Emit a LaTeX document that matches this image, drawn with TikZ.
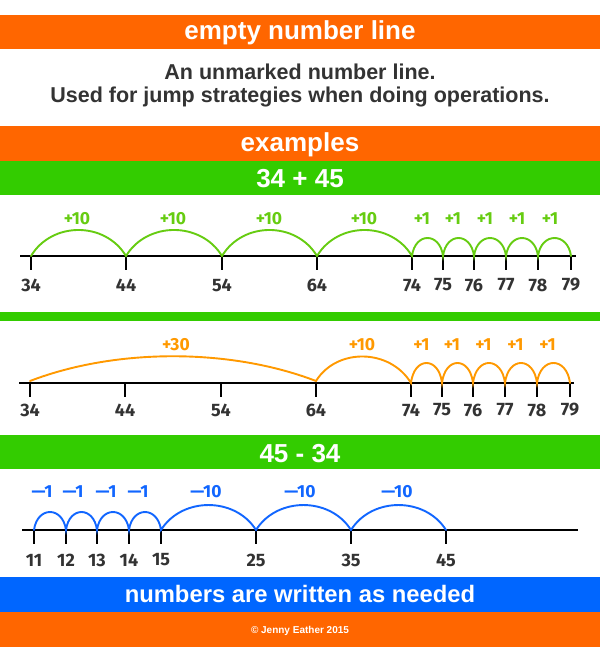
\documentclass[tikz,border=0pt]{standalone}
\usepackage{fontspec}
\setmainfont{Liberation Sans}
\newfontfamily\hand{Fira Sans}
\usetikzlibrary{calc}
\definecolor{bandorange}{HTML}{FF6600}
\definecolor{bandgreen}{HTML}{33CC00}
\definecolor{bandblue}{HTML}{0066FF}
\definecolor{arcgreen}{HTML}{66CC11}
\definecolor{arcorange}{HTML}{FF9900}
\definecolor{arcblue}{HTML}{1166FF}
\definecolor{txtgray}{HTML}{333333}
\begin{document}
\begin{tikzpicture}[x=1pt,y=-1pt,
  headtxt/.style={anchor=base,text=white,font=\bfseries\fontsize{26}{30}\selectfont,inner sep=0pt},
  desc/.style={anchor=base,text=txtgray,font=\bfseries\fontsize{21.5}{24}\selectfont,inner sep=0pt},
  axis/.style={line width=1.3pt,black},
  tickmark/.style={line width=1.3pt,black},
  num/.style={text=txtgray,font=\hand\bfseries\fontsize{18}{18}\selectfont,inner sep=0pt},
  jl/.style={font=\hand\bfseries\fontsize{17.5}{17.5}\selectfont,inner sep=0pt},
  jump/.style={line width=1.9pt,line cap=round},
  bighop/.style={to path={.. controls ($(\tikztostart)!0.22!(\tikztotarget)+(0,-#1)$) and ($(\tikztotarget)!0.22!(\tikztostart)+(0,-#1)$) .. (\tikztotarget)}},
  widehop/.style={to path={.. controls ($(\tikztostart)!0.3!(\tikztotarget)+(0,-#1)$) and ($(\tikztotarget)!0.3!(\tikztostart)+(0,-#1)$) .. (\tikztotarget)}},
  smallhop/.style={to path={.. controls ($(\tikztostart)!0.1!(\tikztotarget)+(0,-#1)$) and ($(\tikztotarget)!0.1!(\tikztostart)+(0,-#1)$) .. (\tikztotarget)}}
]
\useasboundingbox (0,0) rectangle (600,647);
\fill[white] (0,0) rectangle (600,647);
% header bands
\fill[bandorange] (0,15) rectangle (600,49);
\node[headtxt] (t1) at (300,40) {empty number line};
\node[desc] (d1) at (300,80) {An unmarked number line.};
\node[desc] (d2) at (300,102.5) {Used for jump strategies when doing operations.};
\fill[bandorange] (0,126) rectangle (600,161);
\node[headtxt] (t2) at (300,152) {examples};
\fill[bandgreen] (0,161) rectangle (600,194.5);
\node[headtxt] (t3) at (300,187) {34 + 45};
% ---- number line 1
\coordinate (La) at (20,256); \coordinate (Lb) at (576,256);
\draw[axis] (La) -- (Lb);
\foreach \v/\x in {34/31,44/126,54/222,64/317,74/412,75/443,76/474,77/506,78/538,79/571}{
  \coordinate (a\v) at (\x,256);
  \draw[tickmark] (a\v) -- ++(0,14);
  \node[num] (na\v) at (\x,285) {\v};
}
\draw[jump,arcgreen] (a34) to[bighop=34.7] (a44) to[bighop=34.7] (a54) to[bighop=34.7] (a64) to[bighop=34.7] (a74)
  to[smallhop=24] (a75) to[smallhop=24] (a76) to[smallhop=24] (a77) to[smallhop=24] (a78) to[smallhop=24] (a79);
\foreach \x [count=\i] in {77,173,269,364}{\node[jl,text=arcgreen] (ja\i) at (\x,219) {+10};}
\foreach \x [count=\i] in {422,453,485,517,550}{\node[jl,text=arcgreen] (jb\i) at (\x,219) {+1};}
% separator
\fill[bandgreen] (0,312) rectangle (600,321);
% ---- number line 2
\coordinate (Ma) at (19,383); \coordinate (Mb) at (574,383);
\draw[axis] (Ma) -- (Mb);
\foreach \v/\x in {34/30,44/125,54/221,64/316,74/411,75/442,76/473,77/505,78/537,79/570}{
  \coordinate (b\v) at (\x,383);
  \draw[tickmark] (b\v) -- ++(0,14);
  \node[num] (nb\v) at (\x,410) {\v};
}
\draw[jump,arcorange] ($(b34)+(0,-2)$) coordinate (b34u) to[widehop=33] ($(b64)+(0,-2)$) coordinate (b64u) to[bighop=34] (b74)
  to[smallhop=26.7] (b75) to[smallhop=26.7] (b76) to[smallhop=26.7] (b77) to[smallhop=26.7] (b78) to[smallhop=26.7] (b79);
\node[jl,text=arcorange] (jc1) at (176,345) {+30};
\node[jl,text=arcorange] (jc2) at (362,345) {+10};
\foreach \x [count=\i] in {421.5,452,483.5,515.5,547.5}{\node[jl,text=arcorange] (jd\i) at (\x,345) {+1};}
% ---- subtraction header
\fill[bandgreen] (0,435) rectangle (600,469);
\node[headtxt] (t4) at (300,462) {45 - 34};
% ---- number line 3
\coordinate (Na) at (22,530); \coordinate (Nb) at (578,530);
\draw[axis] (Na) -- (Nb);
\foreach \v/\x in {11/34,12/66,13/97,14/129,15/161,25/256,35/351,45/446}{
  \coordinate (c\v) at (\x,530);
  \draw[tickmark] (c\v) -- ++(0,14);
  \node[num] (nc\v) at (\x,560) {\v};
}
\draw[jump,arcblue] (c11) to[smallhop=24] (c12) to[smallhop=24] (c13) to[smallhop=24] (c14) to[smallhop=24] (c15)
  to[bighop=33.3] (c25) to[bighop=33.3] (c35) to[bighop=33.3] (c45);
\foreach \x [count=\i] in {42,73,106,138}{\node[jl,text=arcblue] (je\i) at (\x,492) {—1};}
\foreach \x [count=\i] in {206,300,397}{\node[jl,text=arcblue] (jf\i) at (\x,492) {—10};}
% ---- footer
\fill[bandblue] (0,577) rectangle (600,612);
\node[headtxt,font=\bfseries\fontsize{23.8}{28}\selectfont] (t5) at (300,602) {numbers are written as needed};
\fill[bandorange] (0,612) rectangle (600,647);
\node[headtxt,font=\bfseries\fontsize{10}{12}\selectfont] (t6) at (300,633.5) {© Jenny Eather 2015};
\end{tikzpicture}
\end{document}
